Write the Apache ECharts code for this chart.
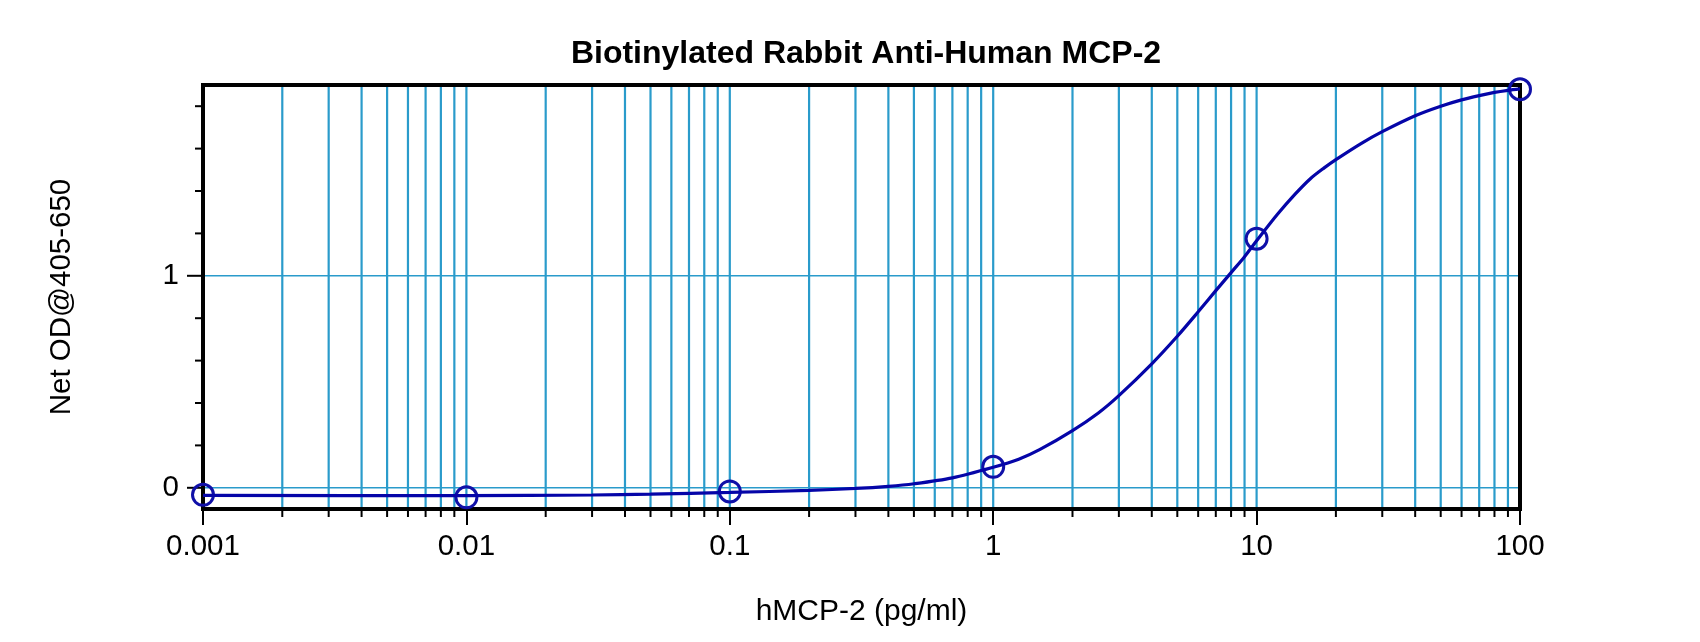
<!DOCTYPE html>
<html>
<head>
<meta charset="utf-8">
<title>Biotinylated Rabbit Anti-Human MCP-2</title>
<script src="https://cdn.jsdelivr.net/npm/echarts@6/dist/echarts.min.js"></script>
<style>
  html, body { margin: 0; padding: 0; background: #fff; }
  #chart { width: 1700px; height: 642px; }
</style>
</head>
<body>
<div id="chart"></div>
<script>
// standard points
const pointConc = [0.001, 0.01, 0.1, 1, 10, 100];
const pointOD = [-0.033, -0.045, -0.017, 0.099, 1.175, 1.88];

// fitted curve
const curveConc = [0.001, 0.01, 0.03, 0.05, 0.1, 0.2, 0.3, 0.4, 0.5, 0.7, 1, 1.25, 1.5, 2, 2.5, 3, 4, 5, 6, 7, 8, 9, 10, 12, 14, 16, 18, 20, 25, 30, 40, 50, 60, 70, 80, 90, 100];
const curveOD = [-0.036, -0.037, -0.034, -0.03, -0.022, -0.012, -0.003, 0.007, 0.019, 0.047, 0.097, 0.135, 0.18, 0.27, 0.352, 0.435, 0.585, 0.715, 0.83, 0.93, 1.015, 1.09, 1.165, 1.29, 1.385, 1.458, 1.508, 1.548, 1.625, 1.68, 1.755, 1.80, 1.83, 1.85, 1.865, 1.875, 1.882];

// axis ticks and gridlines
const xTickLabels = ["0.001", "0.01", "0.1", "1", "10", "100"];
const xMinorTicks = [
  0.002, 0.003, 0.004, 0.005, 0.006, 0.007, 0.008, 0.009,
  0.02, 0.03, 0.04, 0.05, 0.06, 0.07, 0.08, 0.09,
  0.2, 0.3, 0.4, 0.5, 0.6, 0.7, 0.8, 0.9,
  2, 3, 4, 5, 6, 7, 8, 9,
  20, 30, 40, 50, 60, 70, 80, 90,
];
const xGridLines = xMinorTicks.concat([0.01, 0.1, 1, 10]);
const yMajorTicks = [0, 1];
const yMinorTicks = [0.2, 0.4, 0.6, 0.8, 1.2, 1.4, 1.6, 1.8];
const yGridLines = [0, 1];

const X_MIN = 0.001, X_MAX = 100;
const Y_MIN = -0.1, Y_MAX = 1.9;
const FONT = "Liberation Sans, Arial, sans-serif";
const GRID_COLOR = "#2a9bcb";

const chart = echarts.init(document.getElementById("chart"), null, { renderer: "canvas" });

// gridlines drawn under the frame
function renderVGrid(params, api) {
  const v = api.value(0);
  const top = api.coord([v, Y_MAX]);
  const bot = api.coord([v, Y_MIN]);
  return {
    type: "line",
    shape: { x1: top[0], y1: top[1], x2: bot[0], y2: bot[1] },
    style: { stroke: GRID_COLOR, lineWidth: 2.2 },
  };
}

function renderHGrid(params, api) {
  const v = api.value(1);
  const l = api.coord([X_MIN, v]);
  const r = api.coord([X_MAX, v]);
  return {
    type: "line",
    shape: { x1: l[0], y1: l[1], x2: r[0], y2: r[1] },
    style: { stroke: GRID_COLOR, lineWidth: 1.4 },
  };
}

function xTickRenderer(len) {
  return (params, api) => {
    const p = api.coord([api.value(0), Y_MIN]);
    return {
      type: "line",
      shape: { x1: p[0], y1: p[1], x2: p[0], y2: p[1] + len },
      style: { stroke: "#000", lineWidth: 2 },
    };
  };
}

function yTickRenderer(len) {
  return (params, api) => {
    const p = api.coord([X_MIN, api.value(1)]);
    return {
      type: "line",
      shape: { x1: p[0] - len, y1: p[1], x2: p[0], y2: p[1] },
      style: { stroke: "#000", lineWidth: 2 },
    };
  };
}

const option = {
  backgroundColor: "#fff",
  animation: false,
  title: {
    text: "Biotinylated Rabbit Anti-Human MCP-2",
    left: 866,
    top: 38,
    padding: 0,
    textAlign: "center",
    textStyle: { fontFamily: FONT, fontSize: 32, fontWeight: "bold", color: "#000" },
  },
  grid: {
    left: 203, right: 180, top: 85, bottom: 133,
    show: true,
    borderColor: "#000",
    borderWidth: 4,
    backgroundColor: "transparent",
  },
  xAxis: {
    type: "log",
    logBase: 10,
    min: X_MIN,
    max: X_MAX,
    name: "hMCP-2 (pg/ml)",
    nameLocation: "middle",
    nameGap: 88,
    nameTextStyle: { fontFamily: FONT, fontSize: 30, color: "#000" },
    axisLine: { show: false, onZero: false },
    axisTick: { show: true, length: 16, lineStyle: { color: "#000", width: 2 } },
    axisLabel: {
      margin: 23,
      fontFamily: FONT,
      fontSize: 29.5,
      color: "#000",
      formatter: (v) => {
        const i = Math.round(Math.log10(v) - Math.log10(X_MIN));
        return xTickLabels[i] ?? "";
      },
    },
    splitLine: { show: false },
  },
  yAxis: {
    type: "value",
    min: Y_MIN,
    max: Y_MAX,
    name: "Net OD@405-650",
    nameLocation: "middle",
    nameGap: 126,
    nameTextStyle: { fontFamily: FONT, fontSize: 29.5, color: "#000" },
    axisLine: { show: false, onZero: false },
    axisTick: { show: false },
    axisLabel: {
      margin: 24,
      fontFamily: FONT,
      fontSize: 29.5,
      color: "#000",
      formatter: (v) => {
        const hit = yMajorTicks.find((t) => Math.abs(t - v) < 1e-6);
        return hit === undefined ? "" : String(hit);
      },
    },
    splitLine: { show: false },
  },
  series: [
    {
      name: "vgrid",
      type: "custom",
      z: -1,
      silent: true,
      renderItem: renderVGrid,
      data: xGridLines.map((v) => [v, 0]),
    },
    {
      name: "hgrid",
      type: "custom",
      z: -1,
      silent: true,
      renderItem: renderHGrid,
      data: yGridLines.map((v) => [X_MIN, v]),
    },
    {
      name: "xminor",
      type: "custom",
      silent: true,
      clip: false,
      renderItem: xTickRenderer(8),
      data: xMinorTicks.map((v) => [v, Y_MIN]),
    },
    {
      name: "yminor",
      type: "custom",
      silent: true,
      clip: false,
      renderItem: yTickRenderer(8),
      data: yMinorTicks.map((v) => [X_MIN, v]),
    },
    {
      name: "ymajor",
      type: "custom",
      silent: true,
      clip: false,
      renderItem: yTickRenderer(16),
      data: yMajorTicks.map((v) => [X_MIN, v]),
    },
    {
      name: "curve",
      type: "line",
      smooth: 0.3,
      showSymbol: false,
      lineStyle: { color: "#0505a8", width: 3.2 },
      data: curveConc.map((c, i) => [c, curveOD[i]]),
    },
    {
      name: "standards",
      type: "scatter",
      clip: false,
      symbol: "circle",
      symbolSize: 21,
      itemStyle: { color: "rgba(0,0,0,0)", borderColor: "#1010a8", borderWidth: 3, opacity: 1 },
      data: pointConc.map((c, i) => [c, pointOD[i]]),
    },
  ],
};

chart.setOption(option);
window.addEventListener("resize", () => chart.resize());
</script>
</body>
</html>
